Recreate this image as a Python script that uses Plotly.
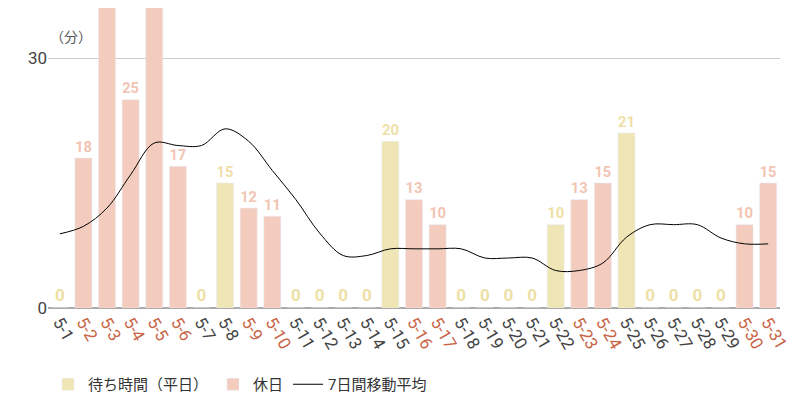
import plotly.graph_objects as go

days = [f"5-{i}" for i in range(1, 32)]
values = [0,18,40,25,45,17,0,15,12,11,0,0,0,0,20,13,10,0,0,0,0,10,13,15,21,0,0,0,0,10,15]
holiday = [0,1,1,1,1,1,0,0,1,1,0,0,0,0,0,1,1,0,0,0,0,0,1,1,0,0,0,0,0,1,1]
moving_avg = [8.9,9.8,12,16,19.8,19.5,19.5,21.5,20,16.5,13,9,6.3,6.3,7.1,7.1,7.1,7.1,6,6,6,4.5,4.5,5.4,8.5,10,10,10,8.4,7.7,7.7]

YEL, PINK = "#F0E5B5", "#F4CCBE"
YEL_T, PINK_T = "#EEDFA6", "#F2C4B3"
TICK_PINK = "#C86446"

fig = go.Figure()
for name, flag, col, tcol in [("待ち時間（平日）", 0, YEL, YEL_T), ("休日", 1, PINK, PINK_T)]:
    xs = [d for d, h in zip(days, holiday) if h == flag]
    ys = [v for v, h in zip(values, holiday) if h == flag]
    txt = [f"<b>{v}</b>" if v <= 30 else "" for v in ys]
    fig.add_trace(go.Bar(x=xs, y=ys, name=name, marker_color=col, text=txt,
                         textposition="outside", cliponaxis=True,
                         textfont=dict(color=tcol, size=17, family="Roboto"),
                         width=0.72))
fig.add_trace(go.Scatter(x=days, y=moving_avg, mode="lines", name="7日間移動平均",
                         line=dict(color="black", width=1, shape="spline")))

ticktext = [f'<span style="color:{TICK_PINK}">{d}</span>' if h else d for d, h in zip(days, holiday)]
fig.update_layout(
    width=800, height=400, margin=dict(l=40, r=28, t=0, b=100, pad=0),
    plot_bgcolor="white", paper_bgcolor="white", barmode="overlay",
    font=dict(family="Roboto, Noto Sans CJK JP", color="#333"),
    xaxis=dict(tickmode="array", tickvals=days, ticktext=ticktext, tickangle=60,
               tickfont=dict(size=17, color="#444"), showgrid=False, automargin=False,
               categoryorder="array", categoryarray=days),
    yaxis=dict(range=[0, 36], tickvals=[0, 30], showgrid=True, gridcolor="#ccc", automargin=False,
               zeroline=True, zerolinecolor="#aaa", tickfont=dict(size=17, color="#444")),
    legend=dict(orientation="h", x=0.0, y=-0.2, yanchor="top", font=dict(size=15, color="#333")),
    showlegend=True,
)
fig.add_annotation(text="（分）", xref="paper", yref="y", x=0, y=32.5, xanchor="left",
                   showarrow=False, font=dict(size=14, color="#555"))
fig.write_html("out.html")
